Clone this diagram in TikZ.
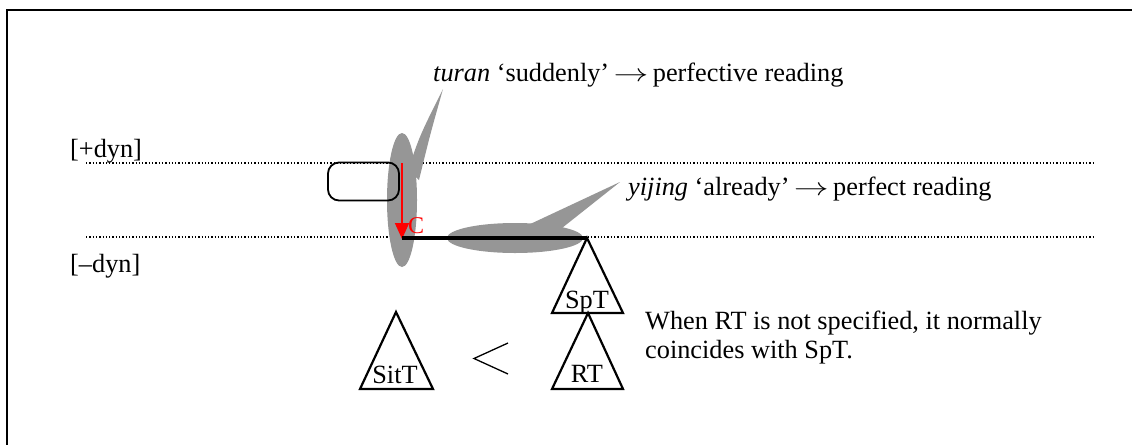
\documentclass[tikz,border=0pt]{standalone}
\usepackage{fontspec}
\usepackage{graphicx}
\setmainfont{Liberation Serif}
\usetikzlibrary{arrows.meta}
\definecolor{callgray}{RGB}{150,150,150}
\definecolor{cred}{RGB}{255,0,0}
\newcommand{\rarr}{\,\scalebox{1.4}[1]{$\rightarrow$}\,}
\begin{document}
\begin{tikzpicture}[x=1pt,y=-1pt,
  lbl/.style={inner sep=0pt,anchor=base west,font=\fontsize{26.3}{32}\selectfont},
  tlbl/.style={inner sep=0pt,anchor=base,font=\fontsize{26.3}{32}\selectfont},
  dotline/.style={line width=1.3pt,dash pattern=on 1.3pt off 2pt},
  tri/.style={line width=2.2pt,line join=miter},
  callout/.style={fill=callgray,draw=none}]
\useasboundingbox (0,0) rectangle (1132,445);
% frame
\draw[line width=1.5pt] (1132,10) -- (7,10) -- (7,445);
% level lines
\coordinate (up1) at (86,163); \coordinate (up2) at (1093,163);
\coordinate (lo1) at (86,237); \coordinate (lo2) at (1093,237);
\draw[dotline] (up1) -- (up2);
\draw[dotline] (lo1) -- (lo2);
\node[lbl] (plus) at (70,157) {[+dyn]};
\node[lbl] (minus) at (70,272) {[–dyn]};
% gray ellipses and callouts
\fill[callout] (402,200) ellipse [x radius=15, y radius=67];
\fill[callout] (408,170) .. controls (420,135) .. (443,89) .. controls (430,135) .. (419,180) -- cycle;
\fill[callout] (515,238) ellipse [x radius=68, y radius=15];
\fill[callout] (526,226) -- (620,182) -- (562,228) -- cycle;
% state box
\node[draw,line width=1.8pt,rounded corners=11pt,minimum width=71pt,minimum height=38pt,inner sep=0pt] (box) at (363.5,181.5) {};
% change arrow
\coordinate (cTop) at (402,163);
\coordinate (cBot) at (402,239);
\draw[cred,line width=1.8pt,-{Triangle[length=16pt,width=14pt]}] (cTop) -- (cBot);
\node[lbl,text=cred,font=\fontsize{24}{28}\selectfont] (C) at (408,233) {C};
% result line
\coordinate (spt) at (587,238);
\draw[line width=4pt] (402,238) -- (spt);
% triangles
\draw[tri] (spt) -- (623,313) -- (552,313) -- cycle;
\node[tlbl] (SpT) at (587,308) {SpT};
\draw[tri] (588,313) -- (623,389) -- (552,389) -- cycle;
\node[tlbl] (RT) at (587,382) {RT};
\draw[tri] (396,312) -- (433,389) -- (360,389) -- cycle;
\node[tlbl] (SitT) at (395,383) {SitT};
% less-than sign
\draw[line width=1.3pt] (508,343) -- (474,358.5) -- (508,374);
% labels
\node[lbl] (turan) at (433,81) {\textit{turan} ‘suddenly’\rarr perfective reading};
\node[lbl] (yijing) at (628,195) {\textit{yijing} ‘already’\rarr perfect reading};
\node[lbl] (when1) at (645,329) {When RT is not specified, it normally};
\node[lbl] (when2) at (645,358) {coincides with SpT.};
\end{tikzpicture}
\end{document}
